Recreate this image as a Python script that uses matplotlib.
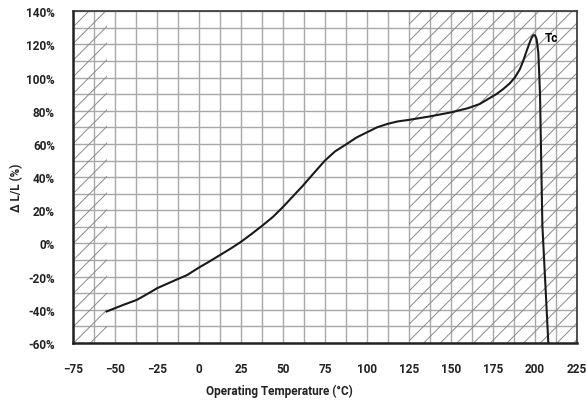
import matplotlib
matplotlib.use('Agg')
import matplotlib.pyplot as plt
from matplotlib.ticker import MultipleLocator, FuncFormatter

# DATA ##########################################

temp = [-55, -50, -45, -37, -30, -25, -15, -7, 0, 6, 12.5, 19, 25, 31, 38,
        44, 50, 56, 62, 68, 75, 81, 88, 94, 100, 106, 112, 118, 125, 137,
        150, 160, 167, 172, 177, 181, 185, 188, 191, 193, 195, 197, 198,
        199, 200, 201, 202, 203, 204.4, 206, 208]
dl = [-41, -39, -37, -34, -30, -27, -22.5, -19, -14.5, -11, -7, -3, 1, 5.5,
      11, 16, 22, 28.5, 35, 42, 50, 55.5, 60, 64, 67, 70, 72, 73.5, 74.5,
      76.5, 79, 81.5, 84, 87, 90, 93, 96.5, 100, 105, 110, 116, 121.5,
      124, 125.5, 125.5, 123, 115, 90, 11, -21, -61]

hatch_regions = [(-75, -55), (125, 225)]
xticks = [-75, -50, -25, 0, 25, 50, 75, 100, 125, 150, 175, 200, 225]
yticks = [-60, -40, -20, 0, 20, 40, 60, 80, 100, 120, 140]

# SETUP #########################################

plt.rcParams.update({
    'font.family': ['Roboto', 'DejaVu Sans'],
    'font.weight': 'bold',
    'font.size': 8.5,
    'hatch.linewidth': 0.7,
})

fig = plt.figure(figsize=(5.86, 4.06), dpi=100)
ax = fig.add_axes([0.1246, 0.1527, 0.86, 0.8173])

# HATCHED REGIONS ###############################

for x0, x1 in hatch_regions:
    ax.axvspan(x0, x1, facecolor='none', edgecolor='#8a8a8a',
               hatch='//', linewidth=0, zorder=1)

# GRID ##########################################

ax.xaxis.set_major_locator(MultipleLocator(25))
ax.xaxis.set_minor_locator(MultipleLocator(12.5))
ax.yaxis.set_major_locator(MultipleLocator(20))
ax.yaxis.set_minor_locator(MultipleLocator(10))
ax.grid(True, which='both', color='#a8a8a8', linewidth=1.0, zorder=0)
ax.set_axisbelow(True)

# CURVE #########################################

ax.plot(temp, dl, color='#1a1a1a', linewidth=1.5, zorder=3)
ax.text(206, 124, 'Tc', fontsize=8.5, fontweight='bold', ha='left', va='center')

# AXES ##########################################

ax.set_xlim(-75, 225)
ax.set_ylim(-60, 140)
ax.set_xticks(xticks)
ax.set_yticks(yticks)
ax.yaxis.set_major_formatter(FuncFormatter(lambda v, p: f'{int(v)}%'))
ax.tick_params(which='both', length=0, labelsize=8.5, colors='#222222')
ax.tick_params(axis='x', pad=14)
ax.tick_params(axis='y', pad=13)

for side in ['left', 'bottom']:
    ax.spines[side].set_linewidth(1.8)
    ax.spines[side].set_color('#222222')
for side in ['top', 'right']:
    ax.spines[side].set_linewidth(1.2)
    ax.spines[side].set_color('#333333')

ax.set_xlabel('Operating Temperature (°C)', fontsize=8.5, fontweight='bold',
              color='#222222')
ax.xaxis.set_label_coords(0.41, -0.123)
ax.set_ylabel('Δ L/L (%)', fontsize=8.5, fontweight='bold', color='#222222')
ax.yaxis.set_label_coords(-0.099, 0.47)

# EXPORT ########################################

fig.savefig('out.png', dpi=100)
